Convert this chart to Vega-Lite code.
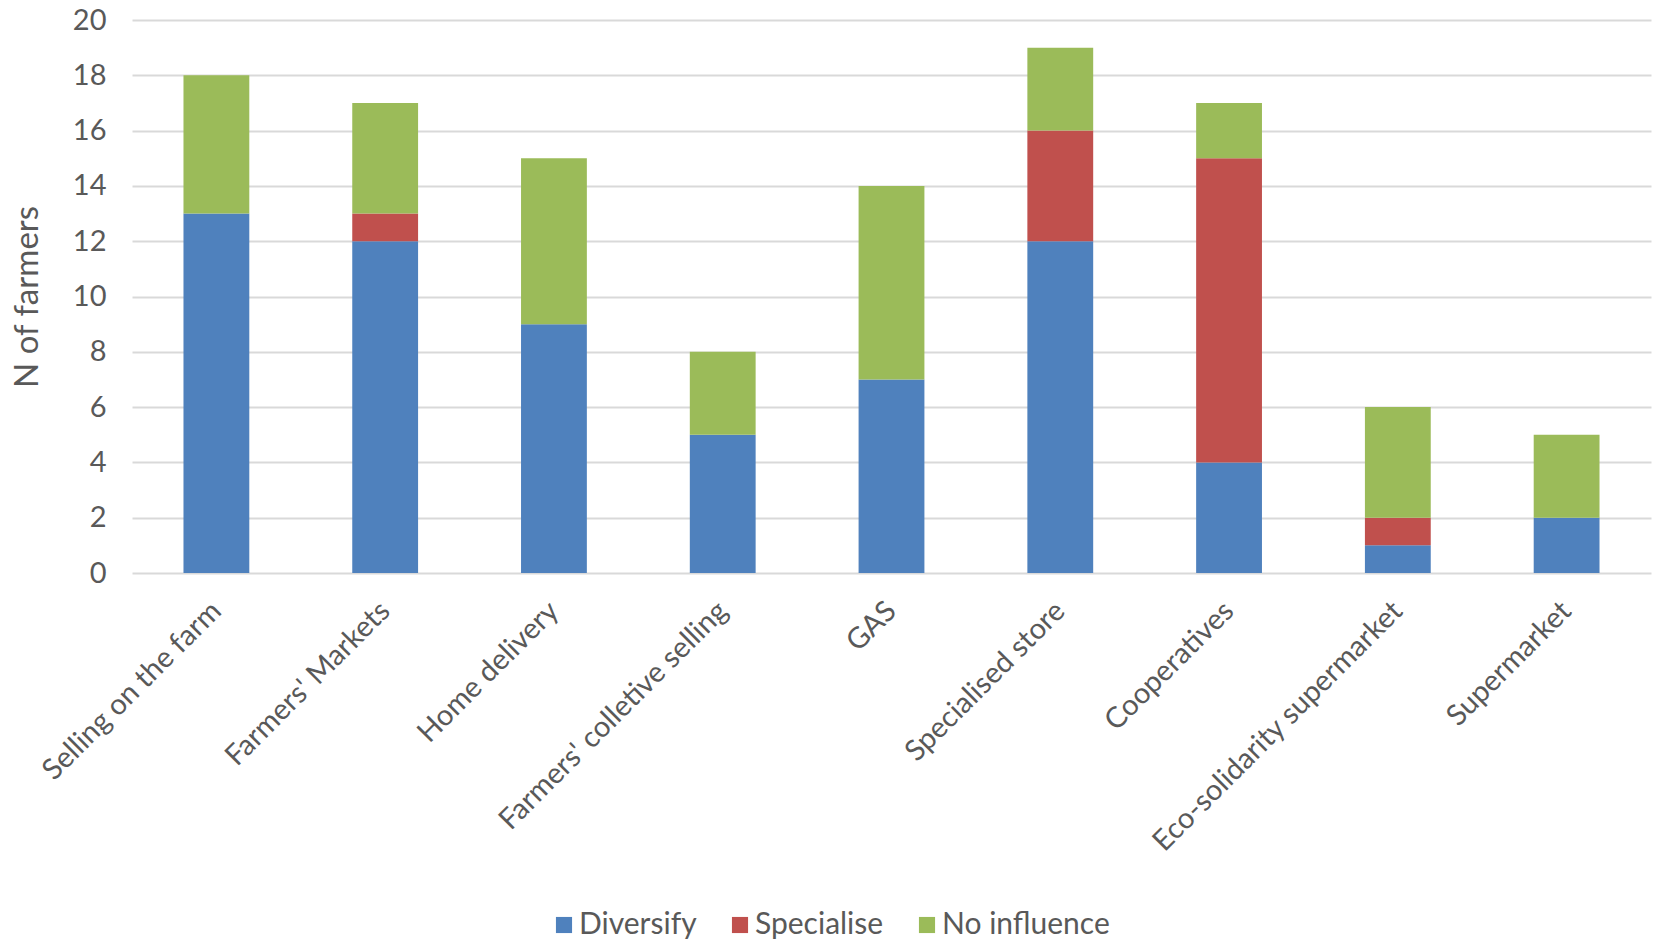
{
  "$schema": "https://vega.github.io/schema/vega-lite/v6.json",
  "width": 1519,
  "height": 553,
  "autosize": {"type": "none"},
  "padding": {"left": 132, "top": 20, "right": 3, "bottom": 373},
  "background": "white",
  "config": {
    "view": {"stroke": null},
    "font": "Lato",
    "axis": {"labelColor": "#595959", "titleColor": "#595959", "labelFont": "Lato", "titleFont": "Lato"},
    "legend": {"labelColor": "#595959", "labelFont": "Lato"}
  },
  "data": {
    "values": [
      {"channel": "Selling on the farm", "effect": "Diversify", "farmers": 13},
      {"channel": "Selling on the farm", "effect": "No influence", "farmers": 5},
      {"channel": "Farmers' Markets", "effect": "Diversify", "farmers": 12},
      {"channel": "Farmers' Markets", "effect": "Specialise", "farmers": 1},
      {"channel": "Farmers' Markets", "effect": "No influence", "farmers": 4},
      {"channel": "Home delivery", "effect": "Diversify", "farmers": 9},
      {"channel": "Home delivery", "effect": "No influence", "farmers": 6},
      {"channel": "Farmers' colletive selling", "effect": "Diversify", "farmers": 5},
      {"channel": "Farmers' colletive selling", "effect": "No influence", "farmers": 3},
      {"channel": "GAS", "effect": "Diversify", "farmers": 7},
      {"channel": "GAS", "effect": "No influence", "farmers": 7},
      {"channel": "Specialised store", "effect": "Diversify", "farmers": 12},
      {"channel": "Specialised store", "effect": "Specialise", "farmers": 4},
      {"channel": "Specialised store", "effect": "No influence", "farmers": 3},
      {"channel": "Cooperatives", "effect": "Diversify", "farmers": 4},
      {"channel": "Cooperatives", "effect": "Specialise", "farmers": 11},
      {"channel": "Cooperatives", "effect": "No influence", "farmers": 2},
      {"channel": "Eco-solidarity supermarket", "effect": "Diversify", "farmers": 1},
      {"channel": "Eco-solidarity supermarket", "effect": "Specialise", "farmers": 1},
      {"channel": "Eco-solidarity supermarket", "effect": "No influence", "farmers": 4},
      {"channel": "Supermarket", "effect": "Diversify", "farmers": 2},
      {"channel": "Supermarket", "effect": "No influence", "farmers": 3}
    ]
  },
  "transform": [
    {"calculate": "indexof(['Diversify', 'Specialise', 'No influence'], datum.effect)", "as": "stackOrder"}
  ],
  "mark": {"type": "bar"},
  "encoding": {
    "x": {
      "field": "channel",
      "type": "nominal",
      "sort": null,
      "title": null,
      "scale": {"paddingInner": 0.61, "paddingOuter": 0.305},
      "axis": {
        "labelAngle": -45,
        "labelAlign": "right",
        "labelBaseline": "middle",
        "labelFontSize": 29,
        "labelPadding": 33,
        "ticks": false,
        "domain": false,
        "grid": false,
        "labelLimit": 500
      }
    },
    "y": {
      "field": "farmers",
      "type": "quantitative",
      "aggregate": "sum",
      "stack": "zero",
      "title": "N of farmers",
      "scale": {"domain": [0, 20]},
      "axis": {
        "values": [0, 2, 4, 6, 8, 10, 12, 14, 16, 18, 20],
        "grid": true,
        "gridColor": "#D9D9D9",
        "gridWidth": 2,
        "domain": false,
        "ticks": false,
        "labelFontSize": 29,
        "labelPadding": 26,
        "titleFontSize": 33,
        "titleFontWeight": "normal",
        "titlePadding": 28
      }
    },
    "color": {
      "field": "effect",
      "type": "nominal",
      "sort": ["Diversify", "Specialise", "No influence"],
      "scale": {
        "domain": ["Diversify", "Specialise", "No influence"],
        "range": ["#4F81BD", "#C0504D", "#9BBB59"]
      },
      "legend": {
        "title": null,
        "orient": "none",
        "direction": "horizontal",
        "legendX": 417,
        "legendY": 890,
        "symbolType": "square",
        "symbolSize": 260,
        "symbolStrokeWidth": 0,
        "labelFontSize": 30,
        "labelLimit": 400,
        "columnPadding": 28,
        "labelOffset": 0
      }
    },
    "order": {"field": "stackOrder", "type": "quantitative"}
  }
}
